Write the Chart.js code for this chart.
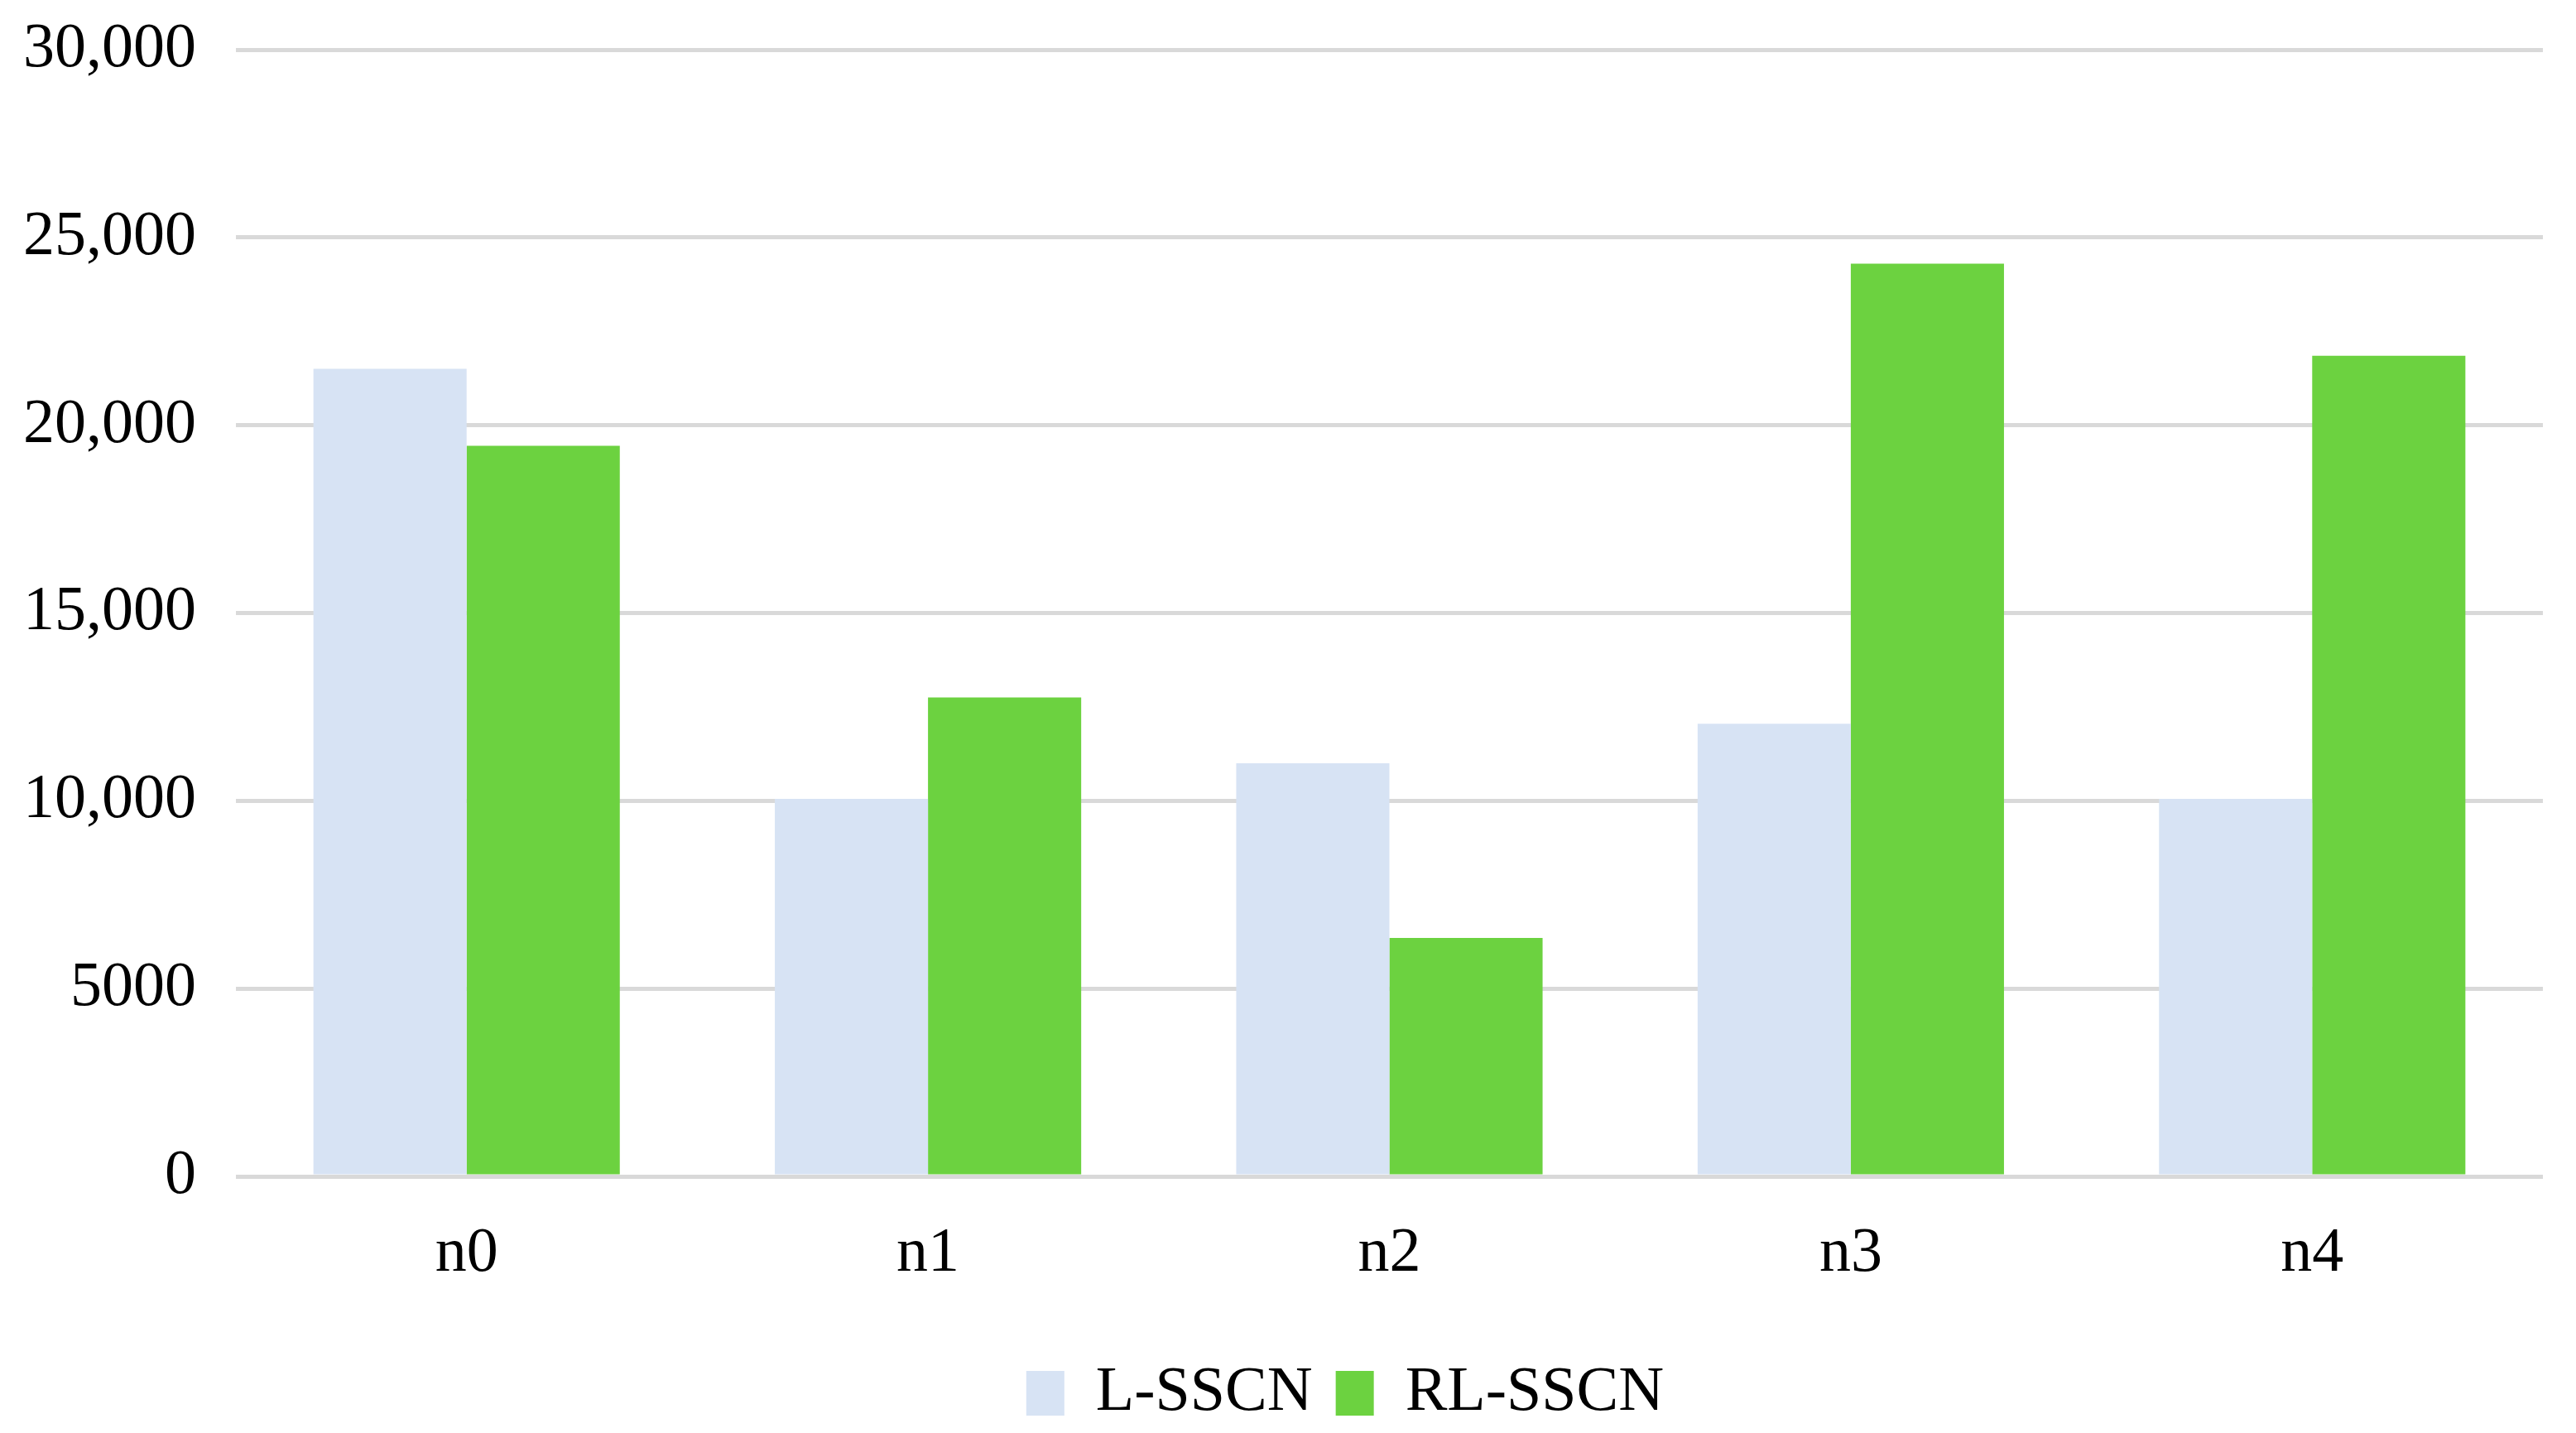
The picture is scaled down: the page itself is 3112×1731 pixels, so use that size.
<!DOCTYPE html>
<html>
<head>
<meta charset="utf-8">
<script src="https://cdn.jsdelivr.net/npm/chart.js@4/dist/chart.umd.min.js"></script>
<style>
  html, body { margin: 0; padding: 0; background: #ffffff; }
  #wrap { width: 3112px; height: 1731px; }
</style>
</head>
<body>
<div id="wrap"><canvas id="c" width="3112" height="1731"></canvas></div>
<script>
const categories = ["n0", "n1", "n2", "n3", "n4"];
const seriesNames = ["L-SSCN", "RL-SSCN"];
const lSscn = [21500, 10050, 11000, 12050, 10050];
const rlSscn = [19450, 12750, 6350, 24300, 21850];
const yTickValues = [0, 5000, 10000, 15000, 20000, 25000, 30000];
const yTickLabels = ["0", "5000", "10,000", "15,000", "20,000", "25,000", "30,000"];

const FONT = "'Liberation Serif', 'DejaVu Serif', serif";

const legendShift = {
  id: 'legendShift',
  afterLayout(chart) {
    if (chart.legend) { chart.legend.left += 75; chart.legend.right += 75; }
  }
};

new Chart(document.getElementById('c'), {
  type: 'bar',
  data: {
    labels: categories,
    datasets: [
      { label: seriesNames[0], data: lSscn, backgroundColor: '#d7e3f4', borderWidth: 0 },
      { label: seriesNames[1], data: rlSscn, backgroundColor: '#6cd240', borderWidth: 0 }
    ]
  },
  plugins: [legendShift],
  options: {
    responsive: false,
    animation: false,
    devicePixelRatio: 1,
    layout: { padding: { top: 60, right: 40, bottom: 0, left: 28 } },
    datasets: { bar: { categoryPercentage: 0.664, barPercentage: 1.0 } },
    plugins: {
      tooltip: { enabled: false },
      legend: {
        display: true,
        position: 'bottom',
        labels: {
          font: { family: FONT, size: 76 },
          color: '#000000',
          boxWidth: 46,
          boxHeight: 54,
          padding: 28
        }
      }
    },
    scales: {
      x: {
        grid: { display: false },
        border: { display: false },
        ticks: {
          font: { family: FONT, size: 76 },
          color: '#000000',
          padding: 40
        },
        afterFit: (s) => { s.height = 196; }
      },
      y: {
        min: 0,
        max: 30000,
        afterBuildTicks: (s) => { s.ticks = yTickValues.map(v => ({ value: v })); },
        grid: { color: '#d9d9d9', lineWidth: 5, drawTicks: false },
        border: { display: false },
        ticks: {
          font: { family: FONT, size: 76 },
          color: '#000000',
          padding: 48,
          callback: (v) => { const i = yTickValues.indexOf(v); return i >= 0 ? yTickLabels[i] : ''; }
        },
        afterFit: (s) => { s.width = 257; s.paddingTop = 40; s.paddingBottom = 0; }
      }
    }
  }
});
</script>
</body>
</html>
